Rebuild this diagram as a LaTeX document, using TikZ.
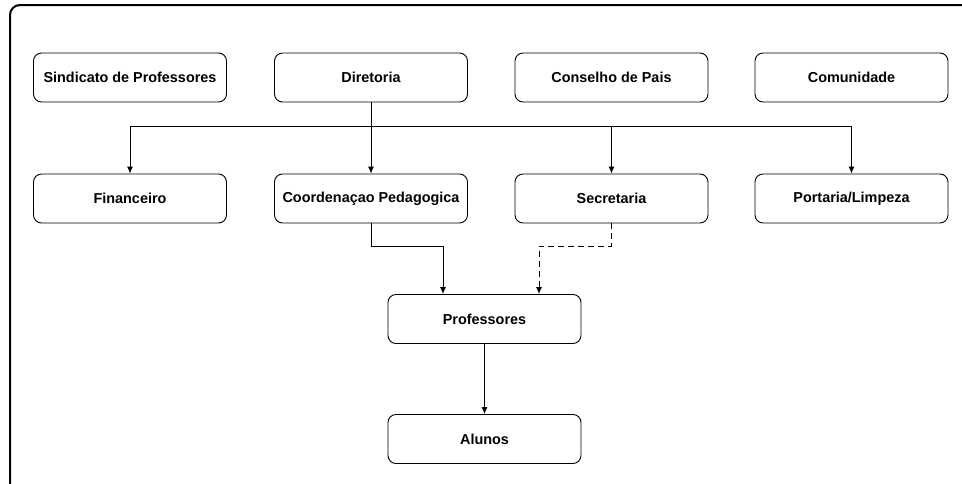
\documentclass[tikz,border=0pt]{standalone}
\usepackage{fontspec}
\setmainfont{Liberation Sans}
\usetikzlibrary{arrows.meta}
\begin{document}
\begin{tikzpicture}[x=1pt,y=-1pt,
  box/.style={draw=black,line width=0.9pt,rounded corners=8pt,minimum width=193pt,minimum height=49pt,inner sep=0pt,font=\fontsize{14.4}{16}\selectfont\bfseries,fill=white},
  conn/.style={draw=black,line width=0.9pt,-{Latex[length=7pt,width=6pt]}},
  dconn/.style={conn,dash pattern=on 6pt off 4pt}]
\useasboundingbox (0,0) rectangle (962,483);
\begin{scope}
\clip (0,0) rectangle (962,483);
\draw[line width=2pt,rounded corners=10pt] (10,5) rectangle (1000,520);
\end{scope}
% row 1
\node[box] (sind) at (130,77.5) {Sindicato de Professores};
\node[box] (dir) at (371,77.5) {Diretoria};
\node[box] (cons) at (611.5,77.5) {Conselho de Pais};
\node[box] (com) at (851.5,77.5) {Comunidade};
% row 2
\node[box] (fin) at (130,198.5) {Financeiro};
\node[box] (coord) at (371,198.5) {Coordenaçao Pedagogica};
\node[box] (sec) at (611.5,198.5) {Secretaria};
\node[box] (port) at (851.5,198.5) {Portaria/Limpeza};
% row 3
\node[box] (prof) at (484.5,319) {Professores};
\node[box] (alu) at (484.5,439) {Alunos};
% connectors
\coordinate (bus) at (371,126);
\draw[line width=0.9pt] (dir.south) -- (bus);
\draw[line width=0.9pt] (fin.north |- bus) -- (port.north |- bus);
\draw[conn] (fin.north |- bus) -- (fin.north);
\draw[conn] (bus) -- (coord.north);
\draw[conn] (sec.north |- bus) -- (sec.north);
\draw[conn] (port.north |- bus) -- (port.north);
\draw[conn] (coord.south) -- (371,246) -- (443,246) -- (443,0 |- prof.north);
\draw[dconn] (sec.south) -- (611.5,246) -- (539,246) -- (539,0 |- prof.north);
\draw[conn] (prof.south) -- (alu.north);
\end{tikzpicture}
\end{document}
